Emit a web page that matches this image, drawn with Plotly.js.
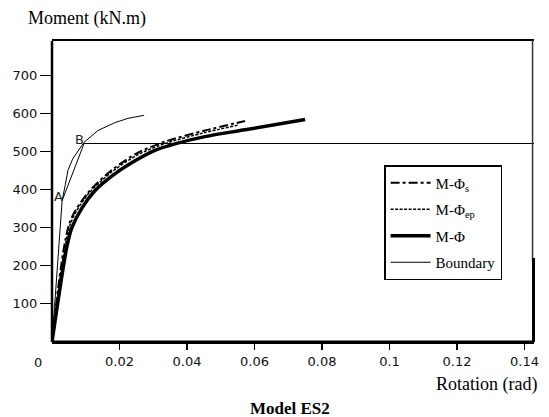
<!DOCTYPE html>
<html>
<head>
<meta charset="utf-8">
<script src="https://cdn.plot.ly/plotly-3.0.1.min.js"></script>
<style>html,body{margin:0;padding:0;background:#fff;}#chart{width:549px;height:417px;}</style>
</head>
<body>
<div id="chart"></div>
<script>
// Data
const rotS   = [0, 0.0053, 0.0107, 0.0178, 0.0255, 0.0335, 0.0453, 0.0572];
const momS   = [0, 315, 392, 452, 497, 526, 555, 580];

const rotEp  = [0, 0.0055, 0.0106, 0.0178, 0.0255, 0.0335, 0.0450, 0.0550];
const momEp  = [0, 311, 387, 447, 492, 521, 549, 569];

const rotM   = [0, 0.0044, 0.0059, 0.0089, 0.0127, 0.0178, 0.0237, 0.0305, 0.0364, 0.0453, 0.0572, 0.0750];
const momM   = [0, 250, 300, 352, 397, 436, 471, 503, 520, 539, 557, 584];

// Boundary: elastic line to A, curve to end, chord A-B, horizontal from B
const rotB   = [0, 0.0030, 0.0039, 0.0047, 0.0062, 0.0080, 0.0095, 0.0136, 0.0187, 0.0225, 0.0273, null, 0.0030, 0.0095, null, 0.0095, 0.1428];
const momB   = [0, 371, 411, 450, 482, 505, 524, 555, 576, 587, 595, null, 371, 521, null, 521, 521];

const xTickVals = [0.02, 0.04, 0.06, 0.08, 0.1, 0.12, 0.14];
const xTickText = ['0.02', '0.04', '0.06', '0.08', '0.1', '0.12', '0.14'];
const yTickVals = [100, 200, 300, 400, 500, 600, 700];
const yTickText = ['100', '200', '300', '400', '500', '600', '700'];

const pointA = {x: 0.0030, y: 371};
const pointB = {x: 0.0095, y: 521};

const serif = 'Liberation Serif, Times New Roman, serif';
const sans = 'DejaVu Sans, Verdana, sans-serif';

const traces = [
  {x: rotS, y: momS, mode: 'lines', name: 'M-Φ<sub>s</sub>', legendgroup: 'a',
   line: {color: '#000', width: 2, dash: '9px,3px,3px,3px', shape: 'spline', smoothing: 0.8}},
  {x: rotEp, y: momEp, mode: 'lines', name: 'M-Φ<sub>ep</sub>', legendgroup: 'b',
   line: {color: '#000', width: 1.5, dash: '3px,1.5px', shape: 'spline', smoothing: 0.8}},
  {x: rotM, y: momM, mode: 'lines', name: 'M-Φ', legendgroup: 'c',
   line: {color: '#000', width: 3.5, shape: 'spline', smoothing: 0.8}},
  {x: rotB, y: momB, mode: 'lines', name: 'Boundary', legendgroup: 'd', connectgaps: false,
   line: {color: '#000', width: 1}}
];

const layout = {
  width: 549, height: 417,
  margin: {l: 52, r: 15, t: 41, b: 75},
  paper_bgcolor: '#fff', plot_bgcolor: '#fff',
  showlegend: true,
  legend: {
    x: 0.689, y: 0.588, xanchor: 'left', yanchor: 'top',
    bgcolor: '#fff', bordercolor: '#000', borderwidth: 1.5,
    font: {family: serif, size: 15, color: '#000'},
    tracegroupgap: 4, itemwidth: 40
  },
  xaxis: {
    range: [0, 0.1428], showgrid: false, zeroline: false,
    showline: true, mirror: true, linecolor: '#000', linewidth: 2,
    tickmode: 'array', tickvals: xTickVals, ticktext: xTickText,
    ticks: 'outside', ticklen: 6, tickwidth: 1.2, tickcolor: '#000',
    tickfont: {family: sans, size: 13, color: '#111'}
  },
  yaxis: {
    range: [0, 790], showgrid: false, zeroline: false, showline: false,
    tickmode: 'array', tickvals: yTickVals, ticktext: yTickText,
    ticks: 'outside', ticklen: 11, tickwidth: 1.2, tickcolor: '#000',
    tickfont: {family: sans, size: 13, color: '#111'}
  },
  shapes: [
    {type: 'line', xref: 'paper', yref: 'paper', x0: 0.997, x1: 0.997, y0: 0.27, y1: 1.003, line: {color: '#333', width: 1.5}},
    {type: 'line', xref: 'paper', yref: 'paper', x0: 0, x1: 0, y0: 0, y1: 1, line: {color: '#000', width: 2.5}},
    {type: 'line', xref: 'paper', yref: 'paper', x0: 0, x1: 1, y0: 0, y1: 0, line: {color: '#000', width: 3}},
    {type: 'line', xref: 'paper', yref: 'paper', x0: 0.999, x1: 0.999, y0: 0, y1: 0.279, line: {color: '#000', width: 3}}
  ],
  annotations: [
    {text: '0', xref: 'x', yref: 'paper', x: 0, y: 0, xanchor: 'center', yanchor: 'top',
     xshift: -14, yshift: -11, showarrow: false, font: {family: sans, size: 13, color: '#111'}},
    {text: 'A', xref: 'x', yref: 'y', x: pointA.x, y: pointA.y, xanchor: 'right', yanchor: 'middle',
     xshift: 3, yshift: 4, showarrow: false, font: {family: sans, size: 13, color: '#222'}},
    {text: 'B', xref: 'x', yref: 'y', x: pointB.x, y: pointB.y, xanchor: 'right', yanchor: 'bottom',
     xshift: 2, yshift: -6, showarrow: false, font: {family: sans, size: 13, color: '#222'}},
    {text: 'Moment (kN.m)', xref: 'paper', yref: 'paper', x: -0.054, y: 1, xanchor: 'left', yanchor: 'bottom',
     yshift: 10, showarrow: false, font: {family: serif, size: 18, color: '#000'}},
    {text: 'Rotation (rad)', xref: 'paper', yref: 'paper', x: 1.01, y: 0, xanchor: 'right', yanchor: 'top',
     yshift: -30, showarrow: false, font: {family: serif, size: 18, color: '#000'}},
    {text: '<b>Model ES2</b>', xref: 'paper', yref: 'paper', x: 0.494, y: 0, xanchor: 'center', yanchor: 'top',
     yshift: -55, showarrow: false, font: {family: serif, size: 17, color: '#000'}}
  ]
};

Plotly.newPlot('chart', traces, layout, {staticPlot: true, displayModeBar: false});
</script>
</body>
</html>
